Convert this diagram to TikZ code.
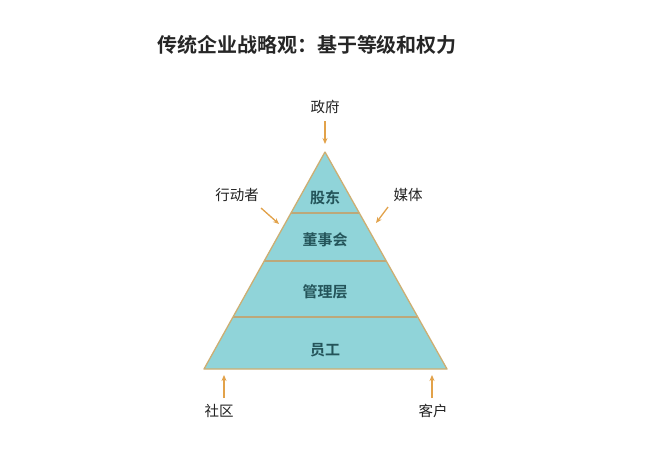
\documentclass[tikz,border=0pt]{standalone}
\usepackage{fontspec}
\newfontfamily\cjk{Noto Sans CJK SC}
\newfontfamily\cjkb{Noto Sans CJK SC Bold}
\usetikzlibrary{arrows.meta}
\definecolor{fillc}{HTML}{90D4D9}
\definecolor{edgec}{HTML}{CDAE72}
\definecolor{divc}{HTML}{BCA87A}
\definecolor{txtc}{HTML}{24545A}
\definecolor{arrc}{HTML}{E2A24A}
\definecolor{lblc}{HTML}{222222}
\begin{document}
\begin{tikzpicture}[x=1pt,y=-1pt,
  lbl/.style={font=\cjk\fontsize{14.5}{16}\selectfont, text=lblc, inner sep=0pt},
  layer/.style={font=\cjkb\fontsize{15}{17}\selectfont, text=txtc, inner sep=0pt},
  arr/.style={draw=arrc, line width=1.3pt, -{Stealth[length=6pt,width=5pt]}}]
\useasboundingbox (0,0) rectangle (662,456);
\fill[white] (0,0) rectangle (662,456);
% pyramid
\coordinate (apex) at (325,152);
\coordinate (bl) at (204,369);
\coordinate (br) at (447,369);
\fill[fillc] (apex) -- (bl) -- (br) -- cycle;
% dividers
\foreach \yy in {213,261,317}{
  \pgfmathsetmacro{\hw}{0.5599*(\yy-152)}
  \draw[divc, line width=1.6pt] (325-\hw,\yy) -- (325+\hw,\yy);
}
\draw[edgec, line width=1.3pt, line join=round] (apex) -- (bl) -- (br) -- cycle;
% title
\node[font=\cjkb\fontsize{20}{22}\selectfont, text=black!85, inner sep=0pt] (title) at (307,45) {传统企业战略观：基于等级和权力};
% layers
\node[layer] (l1) at (325,198) {股东};
\node[layer] (l2) at (325,240) {董事会};
\node[layer] (l3) at (325,292) {管理层};
\node[layer] (l4) at (325,350) {员工};
% outside labels
\node[lbl] (gov) at (325,107) {政府};
\node[lbl] (act) at (237,195) {行动者};
\node[lbl] (med) at (408,195) {媒体};
\node[lbl] (com) at (219,411) {社区};
\node[lbl] (cus) at (433,411) {客户};
% arrow endpoints
\coordinate (gA) at (325,121);
\coordinate (gB) at (325,144);
\coordinate (aA) at (261,208);
\coordinate (aB) at (279,224);
\coordinate (mA) at (388,207);
\coordinate (mB) at (376,223);
\coordinate (cA) at (224,398);
\coordinate (cB) at (224,375);
\coordinate (kA) at (432,398);
\coordinate (kB) at (432,375);
\draw[arr] (gA) -- (gB);
\draw[arr] (aA) -- (aB);
\draw[arr] (mA) -- (mB);
\draw[arr] (cA) -- (cB);
\draw[arr] (kA) -- (kB);
\end{tikzpicture}
\end{document}
